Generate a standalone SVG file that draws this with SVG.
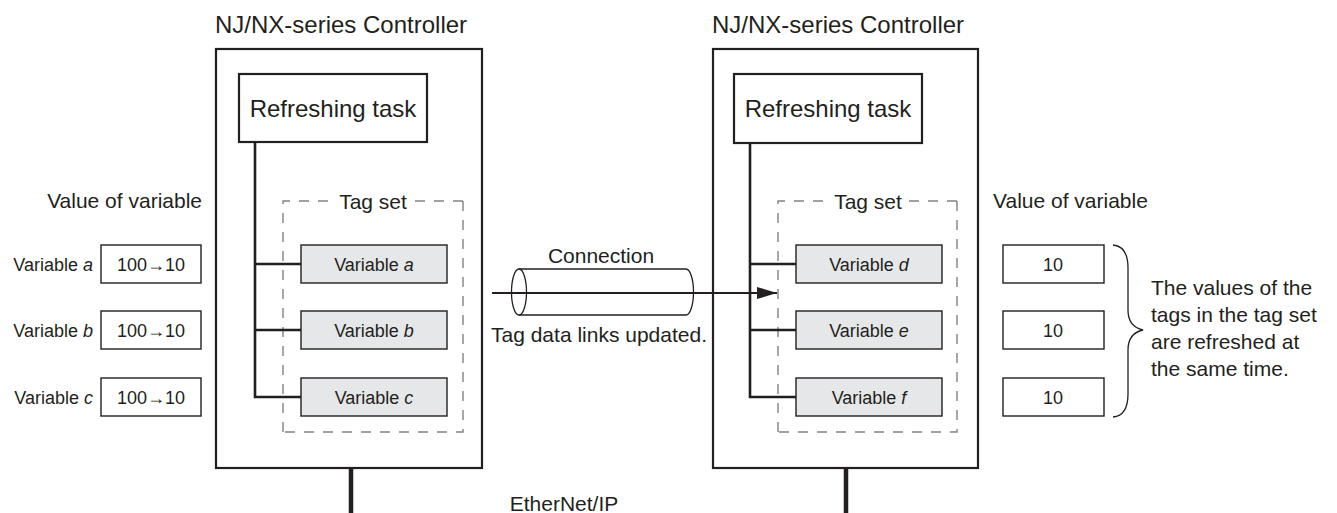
<svg xmlns="http://www.w3.org/2000/svg" width="1337" height="513" viewBox="0 0 1337 513">
<defs>
<style>
text{font-family:"Liberation Sans",Arial,sans-serif;fill:#231f20}
.t24{font-size:24px}
.t21{font-size:21px}
.t18{font-size:18px}
.mid{text-anchor:middle}
.end{text-anchor:end}
.ctrl{fill:#fff;stroke:#231f20;stroke-width:2.2}
.task{fill:#fff;stroke:#231f20;stroke-width:2.2}
.tag{fill:#e6e7e8;stroke:#231f20;stroke-width:1.4}
.val{fill:#fff;stroke:#231f20;stroke-width:1.4}
.dash{fill:none;stroke:#808285;stroke-width:1.4;stroke-dasharray:10 9}
.wire{fill:none;stroke:#231f20;stroke-width:2.6}
.net{fill:none;stroke:#231f20;stroke-width:4.5}
.thin{fill:none;stroke:#231f20;stroke-width:1.3}
</style>
<marker id="arr" viewBox="0 0 20 12" refX="20" refY="6" markerWidth="20" markerHeight="12" markerUnits="userSpaceOnUse" orient="auto">
<path d="M0,0 L20,6 L0,12 Z" fill="#231f20"/>
</marker>
</defs>

<g id="controller-left">
<text class="t24" x="215" y="33">NJ/NX-series Controller</text>
<rect class="ctrl" x="216" y="49" width="266" height="419"/>
</g>
<g id="controller-right">
<text class="t24" x="712" y="33">NJ/NX-series Controller</text>
<rect class="ctrl" x="713" y="49" width="265" height="419"/>
</g>

<g id="tagset-left">
<path class="dash" d="M283,432 L283,201 L334,201"/>
<path class="dash" d="M463,201 L414,201"/>
<path class="dash" d="M463,201 L463,432 L283,432"/>
<text class="t21 mid" x="373" y="209">Tag set</text>
</g>
<g id="tagset-right">
<path class="dash" d="M778,432 L778,201 L829,201"/>
<path class="dash" d="M957,201 L908,201"/>
<path class="dash" d="M957,201 L957,432 L778,432"/>
<text class="t21 mid" x="868" y="209">Tag set</text>
</g>

<g id="connectors">
<path class="wire" d="M255,143 L255,397 L301,397 M255,264 L301,264 M255,330 L301,330"/>
<path class="wire" d="M750,143 L750,397 L796,397 M750,264 L796,264 M750,330 L796,330"/>
<path class="net" d="M351,468 L351,513"/>
<path class="net" d="M846,468 L846,513"/>
<path fill="none" stroke="#231f20" stroke-width="2" d="M492,293 L777,293" marker-end="url(#arr)"/>
</g>

<g id="refresh-left">
<rect class="task" x="239" y="74" width="188" height="68"/>
<text class="t24 mid" x="333" y="117">Refreshing task</text>
</g>
<g id="refresh-right">
<rect class="task" x="734" y="74" width="188" height="69"/>
<text class="t24 mid" x="828" y="117">Refreshing task</text>
</g>

<g id="var-a"><rect class="tag" x="301" y="245" width="146" height="38"/><text class="t18 mid" x="374" y="271">Variable <tspan font-style="italic">a</tspan></text></g>
<g id="var-b"><rect class="tag" x="301" y="311" width="146" height="38"/><text class="t18 mid" x="374" y="337">Variable <tspan font-style="italic">b</tspan></text></g>
<g id="var-c"><rect class="tag" x="301" y="378" width="146" height="38"/><text class="t18 mid" x="374" y="404">Variable <tspan font-style="italic">c</tspan></text></g>
<g id="var-d"><rect class="tag" x="796" y="245" width="146" height="38"/><text class="t18 mid" x="869" y="271">Variable <tspan font-style="italic">d</tspan></text></g>
<g id="var-e"><rect class="tag" x="796" y="311" width="146" height="38"/><text class="t18 mid" x="869" y="337">Variable <tspan font-style="italic">e</tspan></text></g>
<g id="var-f"><rect class="tag" x="796" y="378" width="146" height="38"/><text class="t18 mid" x="869" y="404">Variable <tspan font-style="italic">f</tspan></text></g>

<g id="values-left">
<text class="t21 end" x="202" y="208">Value of variable</text>
<text class="t18 end" x="93" y="271">Variable <tspan font-style="italic">a</tspan></text>
<text class="t18 end" x="93" y="337">Variable <tspan font-style="italic">b</tspan></text>
<text class="t18 end" x="93" y="404">Variable <tspan font-style="italic">c</tspan></text>
<rect class="val" x="101" y="245" width="100" height="38"/><text class="t18 mid" x="151" y="271">100→10</text>
<rect class="val" x="101" y="311" width="100" height="38"/><text class="t18 mid" x="151" y="337">100→10</text>
<rect class="val" x="101" y="378" width="100" height="38"/><text class="t18 mid" x="151" y="404">100→10</text>
</g>

<g id="values-right">
<text class="t21" x="993" y="208">Value of variable</text>
<rect class="val" x="1003" y="245" width="101" height="38"/><text class="t18 mid" x="1053" y="271">10</text>
<rect class="val" x="1003" y="311" width="101" height="38"/><text class="t18 mid" x="1053" y="337">10</text>
<rect class="val" x="1003" y="378" width="101" height="38"/><text class="t18 mid" x="1053" y="404">10</text>
<path class="thin" d="M1113,245 C1124,246 1128,255 1128,268 L1128,310 C1128,322 1134,328 1143,330 C1134,332 1128,338 1128,350 L1128,394 C1128,407 1124,416 1113,417"/>
<text class="t21" x="1151" y="295">The values of the</text>
<text class="t21" x="1151" y="322">tags in the tag set</text>
<text class="t21" x="1151" y="349">are refreshed at</text>
<text class="t21" x="1151" y="376">the same time.</text>
</g>

<g id="connection">
<path class="thin" d="M519,269 L686,269 A7.5,23 0 0 1 686,315 L519,315"/>
<ellipse class="thin" cx="519" cy="292" rx="7.5" ry="23"/>
<text class="t21 mid" x="601" y="263">Connection</text>
<text class="t21" x="491" y="342">Tag data links updated.</text>
</g>

<g id="ethernet">
<text class="t21 mid" x="564" y="511">EtherNet/IP</text>
</g>
</svg>
